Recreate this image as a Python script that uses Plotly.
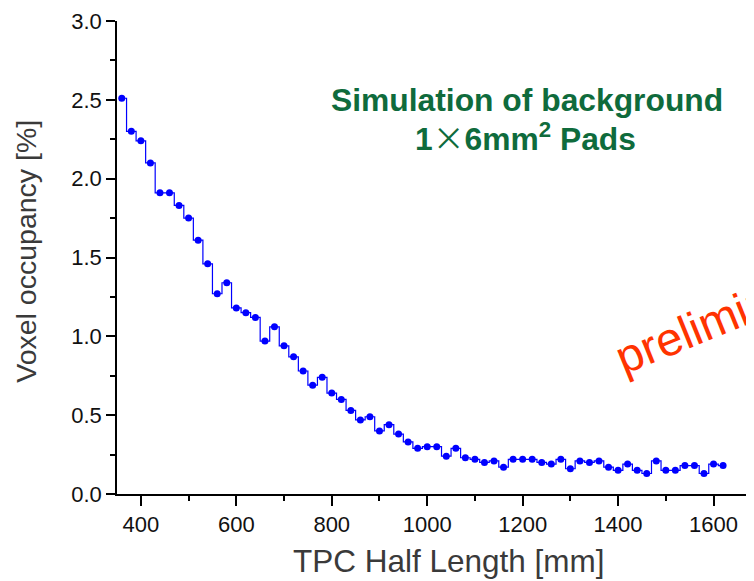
import plotly.graph_objects as go

half_length_mm = [360, 380, 400, 420, 440, 460, 480, 500, 520, 540, 560, 580, 600, 620, 640, 660,
                  680, 700, 720, 740, 760, 780, 800, 820, 840, 860, 880, 900, 920, 940, 960, 980,
                  1000, 1020, 1040, 1060, 1080, 1100, 1120, 1140, 1160, 1180, 1200, 1220, 1240, 1260, 1280, 1300,
                  1320, 1340, 1360, 1380, 1400, 1420, 1440, 1460, 1480, 1500, 1520, 1540, 1560, 1580, 1600, 1620]
occupancy_pct = [2.51, 2.30, 2.24, 2.10, 1.91, 1.91, 1.83, 1.75, 1.61, 1.46, 1.27, 1.34, 1.18, 1.15, 1.12, 0.97,
                 1.06, 0.94, 0.87, 0.78, 0.69, 0.74, 0.64, 0.60, 0.53, 0.47, 0.49, 0.40, 0.44, 0.38, 0.33, 0.29,
                 0.30, 0.30, 0.24, 0.29, 0.23, 0.22, 0.20, 0.21, 0.17, 0.22, 0.22, 0.22, 0.20, 0.19, 0.22, 0.16,
                 0.21, 0.20, 0.21, 0.17, 0.15, 0.19, 0.15, 0.13, 0.21, 0.15, 0.15, 0.18, 0.18, 0.13, 0.19, 0.18]

x_tickvals = [400, 600, 800, 1000, 1200, 1400, 1600]
y_tickvals = [0.0, 0.5, 1.0, 1.5, 2.0, 2.5, 3.0]
y_ticktext = ["0.0", "0.5", "1.0", "1.5", "2.0", "2.5", "3.0"]

# page offset from the default body margin
OFF = 8
W, H = 754 - OFF, 581 - OFF
L = 117.3 - OFF          # plot left (page px 117.3)
T = 20.7 - OFF           # plot top (page px 20.7)
BOT = 494 - OFF          # plot bottom (page px 494)
B = H - BOT
plot_w = W - L
plot_h = BOT - T


def px(xp):
    return (xp - OFF - L) / plot_w


def py(yp):
    return (BOT - (yp - OFF)) / plot_h


fig = go.Figure()
fig.add_trace(go.Scatter(
    x=half_length_mm, y=occupancy_pct,
    mode="lines+markers",
    line=dict(shape="hvh", color="#0000ff", width=1.2),
    marker=dict(symbol="circle", size=7, color="#0000ff"),
    showlegend=False, cliponaxis=False,
))

axis_font = dict(family="Liberation Sans, Arial, sans-serif", size=22, color="#111111")

fig.update_layout(
    width=W, height=H,
    margin=dict(l=L, r=0, t=T, b=B, pad=0),
    paper_bgcolor="white", plot_bgcolor="white",
    xaxis=dict(
        range=[350, 350 + plot_w / 0.477],
        tickvals=x_tickvals,
        ticks="outside", ticklen=10, tickwidth=1.5, tickcolor="black",
        minor=dict(dtick=100, tick0=0, ticks="outside", ticklen=5, tickwidth=1.5, tickcolor="black"),
        showline=True, linecolor="black", linewidth=1.5,
        showgrid=False, zeroline=False,
        tickfont=axis_font,
    ),
    yaxis=dict(
        range=[0, 3.0],
        tickvals=y_tickvals, ticktext=y_ticktext,
        ticks="outside", ticklen=9, tickwidth=1.5, tickcolor="black",
        minor=dict(dtick=0.25, tick0=0, ticks="outside", ticklen=5, tickwidth=1.5, tickcolor="black"),
        showline=True, linecolor="black", linewidth=1.5,
        showgrid=False, zeroline=False,
        tickfont=axis_font,
    ),
)

# small extension of the x axis line to the left of the y axis (Origin style)
fig.add_shape(type="line", xref="paper", yref="paper", x0=-9 / plot_w, x1=0, y0=0, y1=0,
              line=dict(color="black", width=1.5))

title_font = dict(family="Liberation Sans, Arial, sans-serif", size=31.5, color="#3a3a3a")
fig.add_annotation(text="TPC Half Length [mm]", xref="paper", yref="paper",
                   x=px(449), y=py(561),
                   xanchor="center", yanchor="middle", showarrow=False, font=title_font)
fig.add_annotation(text="Voxel occupancy [%]", xref="paper", yref="paper",
                   x=px(26), y=py(251), textangle=-90,
                   xanchor="center", yanchor="middle", showarrow=False,
                   font=dict(family="Liberation Sans, Arial, sans-serif", size=28.5, color="#3a3a3a"))

green = "#0f6b3c"
green_font = dict(family="Liberation Sans, Arial, sans-serif", size=31.8, color=green)
fig.add_annotation(text="<b>Simulation of background</b>", xref="paper", yref="paper",
                   x=px(527), y=py(100),
                   xanchor="center", yanchor="middle", showarrow=False, font=green_font)
fig.add_annotation(text="<b>1</b><span style='font-family:Noto Sans CJK SC'>×</span><b>6mm<sup>2</sup> Pads</b>",
                   xref="paper", yref="paper",
                   x=px(526), y=py(136),
                   xanchor="center", yanchor="middle", showarrow=False, font=green_font)

fig.add_annotation(text="preliminary", xref="paper", yref="paper",
                   x=px(724), y=py(316), textangle=-22,
                   xanchor="center", yanchor="middle", showarrow=False,
                   font=dict(family="Liberation Sans, Arial, sans-serif", size=47, color="#ff3300"))

fig.write_html("out.html")
